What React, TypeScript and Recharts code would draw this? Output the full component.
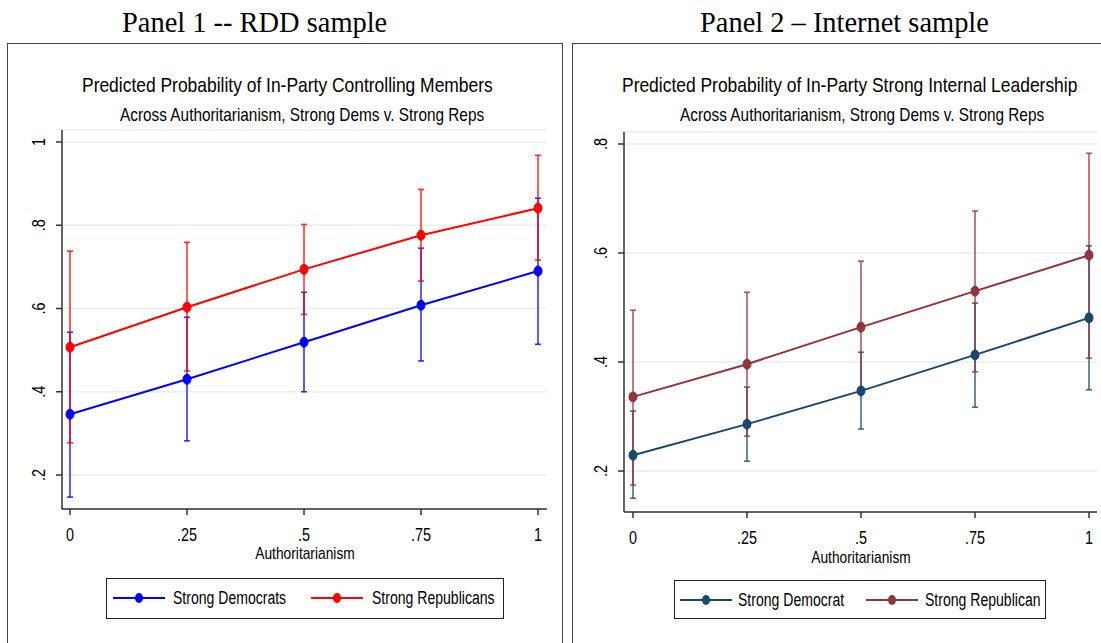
import React from 'react';
import { ComposedChart, Line, XAxis, YAxis, CartesianGrid, ErrorBar } from 'recharts';

// authoritarianism levels on the x axis
const authLevels = [0, 0.25, 0.5, 0.75, 1];
const xTicks = [0, 0.25, 0.5, 0.75, 1];
const xTickLabels = ['0', '.25', '.5', '.75', '1'];

// Panel 1 -- RDD sample
const rddDem = [0.346, 0.43, 0.519, 0.608, 0.69];
const rddDemLo = [0.147, 0.282, 0.4, 0.474, 0.514];
const rddDemHi = [0.543, 0.579, 0.639, 0.745, 0.865];
const rddRep = [0.507, 0.603, 0.694, 0.776, 0.841];
const rddRepLo = [0.277, 0.45, 0.586, 0.666, 0.716];
const rddRepHi = [0.738, 0.759, 0.802, 0.886, 0.968];
const rddYTicks = [0.2, 0.4, 0.6, 0.8, 1];
const rddYTickLabels = ['.2', '.4', '.6', '.8', '1'];

// Panel 2 -- Internet sample
const netDem = [0.229, 0.286, 0.347, 0.413, 0.481];
const netDemLo = [0.15, 0.218, 0.277, 0.317, 0.349];
const netDemHi = [0.31, 0.354, 0.418, 0.508, 0.613];
const netRep = [0.336, 0.396, 0.464, 0.53, 0.596];
const netRepLo = [0.174, 0.264, 0.341, 0.382, 0.407];
const netRepHi = [0.495, 0.528, 0.585, 0.677, 0.783];
const netYTicks = [0.2, 0.4, 0.6, 0.8];
const netYTickLabels = ['.2', '.4', '.6', '.8'];

// no narrow sans installed, so the Stata look is faked with a horizontal squeeze
const SANS = '"Liberation Sans", Arial, sans-serif';
const SERIF = '"Liberation Serif", "Times New Roman", serif';
const SQUEEZE = 0.8;

const buildRows = (dem: number[], demLo: number[], demHi: number[], rep: number[], repLo: number[], repHi: number[]) =>
  authLevels.map((x, i) => ({
    x,
    dem: dem[i],
    demErr: [dem[i] - demLo[i], demHi[i] - dem[i]],
    rep: rep[i],
    repErr: [rep[i] - repLo[i], repHi[i] - rep[i]],
  }));

const rddRows = buildRows(rddDem, rddDemLo, rddDemHi, rddRep, rddRepLo, rddRepHi);
const netRows = buildRows(netDem, netDemLo, netDemHi, netRep, netRepLo, netRepHi);

const makeDot = (color: string) => (props: any) => {
  const { cx, cy, index } = props;
  if (cx == null || cy == null) return <g key={index} />;
  return <ellipse key={index} cx={cx} cy={cy} rx={4} ry={5} fill={color} stroke={color} strokeWidth={1} />;
};

const XTick = (props: any) => {
  const { x, y, payload } = props;
  return (
    <text
      transform={`translate(${x}, ${y}) scale(${SQUEEZE}, 1)`}
      dy="0.71em"
      textAnchor="middle"
      fontFamily={SANS}
      fontSize={18}
      fill="#000"
    >
      {xTickLabels[xTicks.indexOf(payload.value)]}
    </text>
  );
};

const makeYTick = (ticks: number[], text: string[]) => (props: any) => {
  const { x, y, payload } = props;
  const i = ticks.indexOf(payload.value);
  return (
    <text
      transform={`translate(${x}, ${y}) rotate(-90) scale(${SQUEEZE}, 1)`}
      dy="0.35em"
      textAnchor="middle"
      fontFamily={SANS}
      fontSize={18}
      fill="#000"
    >
      {i >= 0 ? text[i] : payload.value}
    </text>
  );
};

type PanelProps = {
  rows: any[];
  width: number;
  height: number;
  margin: { top: number; right: number; left: number; bottom: number };
  xDomain: [number, number];
  yDomain: [number, number];
  yTicks: number[];
  yTickLabels: string[];
  demColor: string;
  repColor: string;
};

const PanelChart: React.FC<PanelProps> = ({ rows, width, height, margin, xDomain, yDomain, yTicks, yTickLabels, demColor, repColor }) => {
  return (
    <ComposedChart width={width} height={height} data={rows} margin={margin}>
      <CartesianGrid vertical={false} stroke="#e6eef1" strokeWidth={1.5} />
      <XAxis
        dataKey="x"
        type="number"
        domain={xDomain}
        allowDataOverflow
        ticks={xTicks}
        height={40}
        tickSize={6}
        tickMargin={13}
        stroke="#333"
        strokeWidth={1.5}
        tick={<XTick />}
      />
      <YAxis
        type="number"
        domain={yDomain}
        allowDataOverflow
        ticks={yTicks}
        width={40}
        tickSize={6}
        tickMargin={17}
        stroke="#333"
        strokeWidth={1.5}
        tick={makeYTick(yTicks, yTickLabels)}
      />
      <Line
        dataKey="dem"
        stroke={demColor}
        strokeWidth={2}
        dot={makeDot(demColor)}
        activeDot={false}
        isAnimationActive={false}
      >
        <ErrorBar dataKey="demErr" direction="y" width={3} stroke={demColor} strokeWidth={1.6} strokeOpacity={0.8} isAnimationActive={false} />
      </Line>
      <Line
        dataKey="rep"
        stroke={repColor}
        strokeWidth={2}
        dot={makeDot(repColor)}
        activeDot={false}
        isAnimationActive={false}
      >
        <ErrorBar dataKey="repErr" direction="y" width={3} stroke={repColor} strokeWidth={1.6} strokeOpacity={0.8} isAnimationActive={false} />
      </Line>
    </ComposedChart>
  );
};

// squeezed sans text, anchored at its left edge or its centre
const Txt: React.FC<{ left: number; top: number; size: number; scale?: number; center?: boolean; family?: string; children: React.ReactNode }> = ({
  left,
  top,
  size,
  scale = SQUEEZE,
  center = false,
  family = SANS,
  children,
}) => (
  <div
    style={{
      position: 'absolute',
      left,
      top,
      fontFamily: family,
      fontSize: size,
      lineHeight: 1,
      whiteSpace: 'nowrap',
      color: '#000',
      transform: center ? `translateX(-50%) scaleX(${scale})` : `scaleX(${scale})`,
      transformOrigin: center ? 'center center' : 'left center',
    }}
  >
    {children}
  </div>
);

const LegendItem: React.FC<{ left: number; textLeft: number; color: string; label: string }> = ({ left, textLeft, color, label }) => (
  <>
    <svg style={{ position: 'absolute', left, top: 11 }} width={52} height={16}>
      <line x1={0} y1={8} x2={52} y2={8} stroke={color} strokeWidth={2} />
      <ellipse cx={26} cy={8} rx={4} ry={5} fill={color} />
    </svg>
    <Txt left={textLeft} top={10} size={18} scale={0.78}>
      {label}
    </Txt>
  </>
);

const App: React.FC = () => {
  return (
    <div style={{ position: 'absolute', left: 0, top: 0, width: 1101, height: 643, overflow: 'hidden', background: '#fff' }}>
      <Txt left={122} top={8} size={29} scale={0.98} family={SERIF}>Panel 1 -- RDD sample</Txt>
      <Txt left={700} top={8} size={29} scale={0.98} family={SERIF}>Panel 2 – Internet sample</Txt>

      <div style={{ position: 'absolute', left: 7, top: 43, width: 556, height: 640, border: '1.5px solid #444', boxSizing: 'border-box' }} />
      <div style={{ position: 'absolute', left: 572, top: 43, width: 560, height: 640, border: '1.5px solid #444', boxSizing: 'border-box' }} />

      <div style={{ position: 'absolute', left: 7, top: 43 }}>
        <PanelChart
          rows={rddRows}
          width={556}
          height={600}
          margin={{ top: 87, right: 16, left: 15, bottom: 94 }}
          xDomain={[-0.0171, 1.0192]}
          yDomain={[0.1184, 1.0288]}
          yTicks={rddYTicks}
          yTickLabels={rddYTickLabels}
          demColor="#0000ff"
          repColor="#ff0000"
        />
      </div>
      <div style={{ position: 'absolute', left: 572, top: 43 }}>
        <PanelChart
          rows={netRows}
          width={529}
          height={600}
          margin={{ top: 89, right: 4, left: 12, bottom: 91 }}
          xDomain={[-0.0197, 1.0175]}
          yDomain={[0.1248, 0.822]}
          yTicks={netYTicks}
          yTickLabels={netYTickLabels}
          demColor="#1a476f"
          repColor="#90353b"
        />
      </div>

      <Txt left={82} top={74} size={21} scale={0.83}>Predicted Probability of In-Party Controlling Members</Txt>
      <Txt left={120} top={106} size={18.5} scale={0.83}>Across Authoritarianism, Strong Dems v. Strong Reps</Txt>
      <Txt left={622} top={74} size={21} scale={0.83}>Predicted Probability of In-Party Strong Internal Leadership</Txt>
      <Txt left={680} top={106} size={18.5} scale={0.83}>Across Authoritarianism, Strong Dems v. Strong Reps</Txt>

      <Txt left={305} top={545} size={17} scale={0.81} center>Authoritarianism</Txt>
      <Txt left={861} top={549} size={17} scale={0.81} center>Authoritarianism</Txt>

      <div style={{ position: 'absolute', left: 106, top: 578, width: 398, height: 41, border: '1.5px solid #222', boxSizing: 'border-box' }}>
        <LegendItem left={6} textLeft={66} color="#0000ff" label="Strong Democrats" />
        <LegendItem left={204} textLeft={265} color="#ff0000" label="Strong Republicans" />
      </div>
      <div style={{ position: 'absolute', left: 674, top: 580, width: 372, height: 39, border: '1.5px solid #222', boxSizing: 'border-box' }}>
        <LegendItem left={5} textLeft={63} color="#1a476f" label="Strong Democrat" />
        <LegendItem left={191} textLeft={250} color="#90353b" label="Strong Republican" />
      </div>
    </div>
  );
};

export default App;
